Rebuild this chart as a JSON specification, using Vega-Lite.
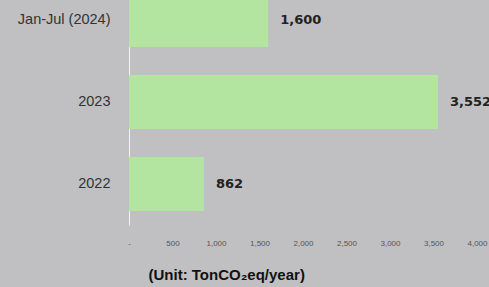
{
  "$schema": "https://vega.github.io/schema/vega-lite/v6.json",
  "autosize": "none",
  "width": 348,
  "height": 246,
  "padding": {"left": 129, "top": -21, "right": 12, "bottom": 62},
  "background": "#c0c0c2",
  "config": {"view": {"stroke": null}, "font": "Liberation Sans"},
  "data": {"values": [
    {"period": "Jan-Jul (2024)", "value": 1600},
    {"period": "2023", "value": 3552},
    {"period": "2022", "value": 862}
  ]},
  "encoding": {
    "y": {"field": "period", "type": "nominal", "sort": null,
      "scale": {"paddingInner": 0.34, "paddingOuter": 0.17},
      "axis": {"title": null, "ticks": false, "domainColor": "#f2f2f2", "domainWidth": 1,
        "labelFontSize": 14.5, "labelColor": "#333333", "labelPadding": 19, "labelFont": "Liberation Sans"}},
    "x": {"field": "value", "type": "quantitative",
      "scale": {"domain": [0, 4000], "nice": false},
      "axis": {"values": [0, 500, 1000, 1500, 2000, 2500, 3000, 3500, 4000],
        "labelExpr": "datum.value == 0 ? '-' : format(datum.value, ',')",
        "domain": false, "ticks": false, "grid": false, "labelFontSize": 8, "labelColor": "#555555",
        "labelPadding": 14, "labelFlush": false,
        "title": "(Unit: TonCO₂eq/year)", "titleFontSize": 15, "titleFontWeight": "bold", "titleColor": "#111111",
        "titleAnchor": "start", "titleAlign": "left", "titleX": 19, "titleY": 49, "titleBaseline": "middle"}}
  },
  "layer": [
    {"mark": {"type": "bar", "color": "#b3e5a1"}},
    {"mark": {"type": "text", "align": "left", "dx": 12, "fontWeight": "bold", "fontSize": 13, "font": "DejaVu Sans", "color": "#222222"},
     "encoding": {"text": {"field": "value", "type": "quantitative", "format": ","}}}
  ]
}
